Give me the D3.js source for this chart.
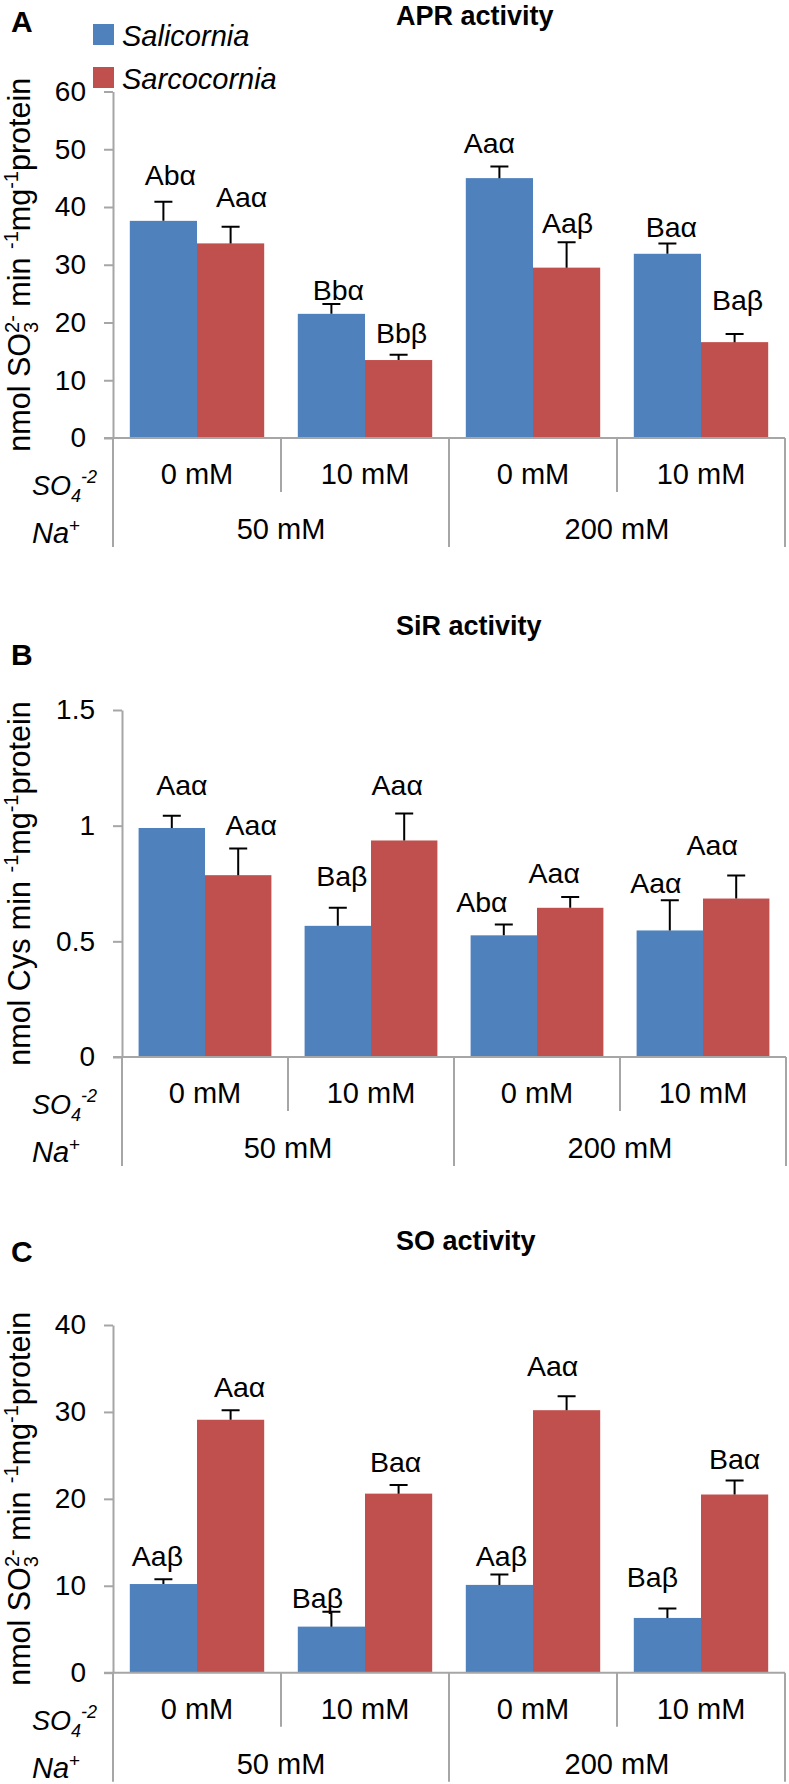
<!DOCTYPE html>
<html>
<head>
<meta charset="utf-8">
<script src="https://cdn.jsdelivr.net/npm/d3@7"></script>
<style>
  body { margin: 0; background: #fff; }
  svg { display: block; font-family: "Liberation Sans", Arial, sans-serif; }
</style>
</head>
<body>
<div id="chart"></div>
<script>
const width = 789, height = 1784;

// categories
const sulfate = ["0 mM", "10 mM", "0 mM", "10 mM"];
const sodium = ["50 mM", "200 mM"];
const species = ["Salicornia", "Sarcocornia"];
const colors = ["#4f81bd", "#c0504d"];

// APR activity
const aprSal = [37.6, 21.5, 45.0, 31.9];
const aprSalErr = [3.3, 1.7, 2.0, 1.8];
const aprSar = [33.7, 13.5, 29.5, 16.6];
const aprSarErr = [2.9, 0.9, 4.4, 1.4];
const aprSalSig = ["Abα", "Bbα", "Aaα", "Baα"];
const aprSarSig = ["Aaα", "Bbβ", "Aaβ", "Baβ"];
const aprTicks = [0, 10, 20, 30, 40, 50, 60];

// SiR activity
const sirSal = [0.99, 0.567, 0.526, 0.547];
const sirSalErr = [0.053, 0.078, 0.047, 0.131];
const sirSar = [0.786, 0.936, 0.645, 0.685];
const sirSarErr = [0.115, 0.117, 0.047, 0.1];
const sirSalSig = ["Aaα", "Baβ", "Abα", "Aaα"];
const sirSarSig = ["Aaα", "Aaα", "Aaα", "Aaα"];
const sirTicks = [0, 0.5, 1, 1.5];

// SO activity
const soSal = [10.2, 5.3, 10.1, 6.3];
const soSalErr = [0.55, 1.7, 1.2, 1.1];
const soSar = [29.1, 20.6, 30.2, 20.5];
const soSarErr = [1.1, 1.0, 1.6, 1.6];
const soSalSig = ["Aaβ", "Baβ", "Aaβ", "Baβ"];
const soSarSig = ["Aaα", "Baα", "Aaα", "Baα"];
const soTicks = [0, 10, 20, 30, 40];

// y axis titles as [text, dy, dx, small]
const so3Label = [["nmol SO", 0, 0, 0], ["3", 8, 0, 1], ["2-", -19, -11, 1], [" min ", 11, 0, 0],
  ["-1", -12, 0, 1], ["mg", 12, 0, 0], ["-1", -12, 0, 1], ["protein", 12, 0, 0]];
const cysLabel = [["nmol Cys min ", 0, 0, 0], ["-1", -12, 0, 1], ["mg", 12, 0, 0],
  ["-1", -12, 0, 1], ["protein", 12, 0, 0]];

const panels = [
  { letter: "A", title: "APR activity", ylab: so3Label, ticks: aprTicks,
    sal: aprSal, salErr: aprSalErr, sar: aprSar, sarErr: aprSarErr, salSig: aprSalSig, sarSig: aprSarSig,
    left: 113, band: 168, top: 91.5, bottom: 438, letterY: 32, titleY: 25,
    salGap: [17, 4, 14, 6], sarGap: [20, 12, 9, 24], salDx: [7, 7, -10, 4], sarDx: [11, 3, 1, 3] },
  { letter: "B", title: "SiR activity", ylab: cysLabel, ticks: sirTicks,
    sal: sirSal, salErr: sirSalErr, sar: sirSar, sarErr: sirSarErr, salSig: sirSalSig, sarSig: sirSarSig,
    left: 122, band: 166, top: 710, bottom: 1057, letterY: 665, titleY: 635,
    salGap: [21, 22, 12, 7], sarGap: [14, 18, 14, 20], salDx: [10, 4, -22, -14], sarDx: [13, -7, -16, -24] },
  { letter: "C", title: "SO activity", ylab: so3Label, ticks: soTicks,
    sal: soSal, salErr: soSalErr, sar: soSar, sarErr: soSarErr, salSig: soSalSig, sarSig: soSarSig,
    left: 113, band: 168, top: 1325, bottom: 1672.7, letterY: 1262, titleY: 1250,
    salGap: [13, 4, 8, 21], sarGap: [13, 13, 20, 12], salDx: [-6, -14, 2, -15], sarDx: [9, -3, -14, 0] }
];

const axisColor = "#a6a6a6";

const svg = d3.select("#chart").append("svg")
  .attr("width", width)
  .attr("height", height);

function drawPanel(p) {
  const g = svg.append("g");
  const right = p.left + 4 * p.band;

  const x0 = d3.scaleBand().domain(d3.range(4))
    .range([p.left, right]).paddingInner(0.2).paddingOuter(0.1);
  const x1 = d3.scaleBand().domain([0, 1]).range([0, x0.bandwidth()]);
  const y = d3.scaleLinear().domain([0, d3.max(p.ticks)]).range([p.bottom, p.top]);

  // panel letter and title
  g.append("text").attr("x", 11).attr("y", p.letterY)
    .attr("font-size", 30).attr("font-weight", "bold").text(p.letter);
  g.append("text").attr("x", 396).attr("y", p.titleY)
    .attr("font-size", 27).attr("font-weight", "bold").text(p.title);

  // y axis
  const yAxis = g.append("g")
    .attr("transform", `translate(${p.left},0)`)
    .call(d3.axisLeft(y).tickValues(p.ticks).tickSize(9).tickSizeOuter(0)
      .tickPadding(18).tickFormat(d3.format("~g")));
  yAxis.selectAll("path, line").attr("stroke", axisColor).attr("stroke-width", 2);
  yAxis.selectAll("text").attr("font-size", 28).attr("fill", "#000")
    .attr("font-family", "Liberation Sans, Arial, sans-serif");

  // y axis title
  const yt = g.append("text")
    .attr("transform", `translate(30,${(p.top + p.bottom) / 2}) rotate(-90)`)
    .attr("text-anchor", "middle")
    .attr("font-size", 30.5);
  p.ylab.forEach(([s, dy, dx, small]) => {
    yt.append("tspan").text(s).attr("dy", dy).attr("dx", dx)
      .attr("font-size", small ? 20 : null);
  });

  // bars, error bars and letters for both species
  [[p.sal, p.salErr, p.salSig, p.salGap, p.salDx],
   [p.sar, p.sarErr, p.sarSig, p.sarGap, p.sarDx]].forEach(([vals, errs, sig, gap, dx], s) => {
    const sg = g.append("g");
    sg.selectAll("rect").data(vals).join("rect")
      .attr("x", (d, i) => x0(i) + x1(s))
      .attr("y", d => y(d))
      .attr("width", x1.bandwidth())
      .attr("height", d => y(0) - y(d))
      .attr("fill", colors[s]);

    const cx = i => x0(i) + x1(s) + x1.bandwidth() / 2;
    sg.selectAll("path.err").data(vals).join("path")
      .attr("class", "err")
      .attr("d", (d, i) => `M${cx(i)},${y(d)}V${y(d + errs[i])}M${cx(i) - 9},${y(d + errs[i])}H${cx(i) + 9}`)
      .attr("stroke", "#000").attr("stroke-width", 2).attr("fill", "none");

    sg.selectAll("text").data(vals).join("text")
      .attr("x", (d, i) => cx(i) + dx[i])
      .attr("y", (d, i) => y(d + errs[i]) - gap[i])
      .attr("text-anchor", "middle")
      .attr("font-size", 28.5)
      .text((d, i) => sig[i]);
  });

  // x axis with two category levels
  g.append("line")
    .attr("x1", p.left - 9).attr("x2", right)
    .attr("y1", p.bottom).attr("y2", p.bottom)
    .attr("stroke", axisColor).attr("stroke-width", 2);

  g.selectAll("line.sep").data(d3.range(5)).join("line")
    .attr("class", "sep")
    .attr("x1", i => p.left + i * x0.step()).attr("x2", i => p.left + i * x0.step())
    .attr("y1", p.bottom).attr("y2", i => p.bottom + (i % 2 ? 54 : 109))
    .attr("stroke", axisColor).attr("stroke-width", 2);

  g.selectAll("text.so4").data(sulfate).join("text")
    .attr("class", "so4")
    .attr("x", (d, i) => x0(i) + x0.bandwidth() / 2)
    .attr("y", p.bottom + 46)
    .attr("text-anchor", "middle").attr("font-size", 29)
    .text(d => d);

  g.selectAll("text.na").data(sodium).join("text")
    .attr("class", "na")
    .attr("x", (d, i) => p.left + (2 * i + 1) * x0.step())
    .attr("y", p.bottom + 101)
    .attr("text-anchor", "middle").attr("font-size", 29)
    .text(d => d);

  // row names
  const so = g.append("text").attr("x", 32).attr("y", p.bottom + 57)
    .attr("font-size", 27).attr("font-style", "italic").text("SO");
  so.append("tspan").attr("dy", 7).attr("font-size", 18).text("4");
  so.append("tspan").attr("dy", -19).attr("font-size", 18).text("-2");

  const na = g.append("text").attr("x", 32).attr("y", p.bottom + 105)
    .attr("font-size", 29).attr("font-style", "italic").text("Na");
  na.append("tspan").attr("dy", -11).attr("font-size", 19).attr("font-style", "normal").text("+");
}

panels.forEach(drawPanel);

// legend
const legend = svg.append("g");
species.forEach((s, i) => {
  legend.append("rect")
    .attr("x", 93).attr("y", 24 + i * 43)
    .attr("width", 21).attr("height", 21)
    .attr("fill", colors[i]);
  legend.append("text")
    .attr("x", 122).attr("y", 46 + i * 43)
    .attr("font-size", 29).attr("font-style", "italic")
    .text(s);
});
</script>
</body>
</html>
